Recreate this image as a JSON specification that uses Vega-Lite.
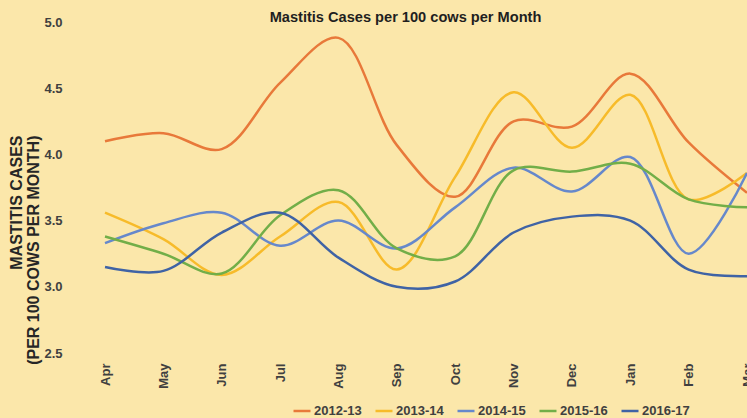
{
  "$schema": "https://vega.github.io/schema/vega-lite/v6.json",
  "autosize": {"type": "none"},
  "padding": {"left": 76, "top": 22, "right": 0, "bottom": 65},
  "width": 671,
  "height": 331,
  "background": "#FBE7AA",
  "config": {"view": {"stroke": null}, "font": "Liberation Sans"},
  "title": {"text": "Mastitis Cases per 100 cows per Month", "fontSize": 14.6, "fontWeight": "bold", "color": "#1f1f1f", "anchor": "middle", "baseline": "alphabetic", "offset": 0, "dx": -6, "dy": 21, "font": "Liberation Sans"},
  "datasets": {
    "d": [
      {"m":"Apr","y":"2012-13","v":4.10},{"m":"May","y":"2012-13","v":4.16},{"m":"Jun","y":"2012-13","v":4.04},{"m":"Jul","y":"2012-13","v":4.54},{"m":"Aug","y":"2012-13","v":4.88},{"m":"Sep","y":"2012-13","v":4.07},{"m":"Oct","y":"2012-13","v":3.68},{"m":"Nov","y":"2012-13","v":4.25},{"m":"Dec","y":"2012-13","v":4.21},{"m":"Jan","y":"2012-13","v":4.61},{"m":"Feb","y":"2012-13","v":4.09},{"m":"Mar","y":"2012-13","v":3.71},
      {"m":"Apr","y":"2013-14","v":3.56},{"m":"May","y":"2013-14","v":3.36},{"m":"Jun","y":"2013-14","v":3.09},{"m":"Jul","y":"2013-14","v":3.38},{"m":"Aug","y":"2013-14","v":3.64},{"m":"Sep","y":"2013-14","v":3.13},{"m":"Oct","y":"2013-14","v":3.83},{"m":"Nov","y":"2013-14","v":4.47},{"m":"Dec","y":"2013-14","v":4.05},{"m":"Jan","y":"2013-14","v":4.45},{"m":"Feb","y":"2013-14","v":3.66},{"m":"Mar","y":"2013-14","v":3.86},
      {"m":"Apr","y":"2014-15","v":3.33},{"m":"May","y":"2014-15","v":3.48},{"m":"Jun","y":"2014-15","v":3.56},{"m":"Jul","y":"2014-15","v":3.31},{"m":"Aug","y":"2014-15","v":3.50},{"m":"Sep","y":"2014-15","v":3.29},{"m":"Oct","y":"2014-15","v":3.60},{"m":"Nov","y":"2014-15","v":3.90},{"m":"Dec","y":"2014-15","v":3.72},{"m":"Jan","y":"2014-15","v":3.98},{"m":"Feb","y":"2014-15","v":3.25},{"m":"Mar","y":"2014-15","v":3.86},
      {"m":"Apr","y":"2015-16","v":3.38},{"m":"May","y":"2015-16","v":3.25},{"m":"Jun","y":"2015-16","v":3.10},{"m":"Jul","y":"2015-16","v":3.54},{"m":"Aug","y":"2015-16","v":3.73},{"m":"Sep","y":"2015-16","v":3.29},{"m":"Oct","y":"2015-16","v":3.23},{"m":"Nov","y":"2015-16","v":3.88},{"m":"Dec","y":"2015-16","v":3.87},{"m":"Jan","y":"2015-16","v":3.93},{"m":"Feb","y":"2015-16","v":3.66},{"m":"Mar","y":"2015-16","v":3.60},
      {"m":"Apr","y":"2016-17","v":3.15},{"m":"May","y":"2016-17","v":3.12},{"m":"Jun","y":"2016-17","v":3.41},{"m":"Jul","y":"2016-17","v":3.56},{"m":"Aug","y":"2016-17","v":3.22},{"m":"Sep","y":"2016-17","v":3.00},{"m":"Oct","y":"2016-17","v":3.04},{"m":"Nov","y":"2016-17","v":3.41},{"m":"Dec","y":"2016-17","v":3.53},{"m":"Jan","y":"2016-17","v":3.50},{"m":"Feb","y":"2016-17","v":3.13},{"m":"Mar","y":"2016-17","v":3.08}
    ]
  },
  "data": {"name": "d"},
  "mark": {"type": "line", "interpolate": "catmull-rom", "strokeWidth": 2.5, "clip": false},
  "encoding": {
    "x": {
      "field": "m", "type": "ordinal",
      "sort": ["Apr","May","Jun","Jul","Aug","Sep","Oct","Nov","Dec","Jan","Feb","Mar"],
      "scale": {"type": "point", "padding": 0.2485, "align": 1},
      "axis": {"title": null, "labelAngle": -90, "labelAlign": "right", "labelBaseline": "middle", "labelFontSize": 13, "labelFontWeight": "bold", "labelColor": "#404040", "labelPadding": 10, "ticks": false, "domain": false, "grid": false, "labelOverlap": false, "labelBound": false}
    },
    "y": {
      "field": "v", "type": "quantitative",
      "scale": {"domain": [2.5, 5.0], "nice": false, "zero": false},
      "axis": {"values": [2.5, 3.0, 3.5, 4.0, 4.5, 5.0], "format": ".1f", "title": ["MASTITIS CASES", "(PER 100 COWS PER MONTH)"], "titleFontSize": 16, "titleFontWeight": "bold", "titleColor": "#262626", "titleAngle": -90, "titleAlign": "right", "titleBaseline": "top", "titleX": -68, "titleY": 113, "titleLineHeight": 17, "labelFontSize": 13, "labelFontWeight": "bold", "labelColor": "#404040", "labelPadding": 14, "ticks": false, "domain": false, "grid": false}
    },
    "color": {
      "field": "y", "type": "nominal",
      "scale": {"domain": ["2012-13","2013-14","2014-15","2015-16","2016-17"], "range": ["#E8793A","#F7BB2A","#6688CB","#72AE48","#3F63A5"]},
      "legend": {"title": null, "orient": "none", "direction": "horizontal", "legendX": 216, "legendY": 379, "symbolType": "stroke", "symbolSize": 289, "symbolStrokeWidth": 2.5, "labelFontSize": 13, "labelFontWeight": "bold", "labelColor": "#404040", "labelOffset": 2, "columnPadding": 8}
    }
  }
}
